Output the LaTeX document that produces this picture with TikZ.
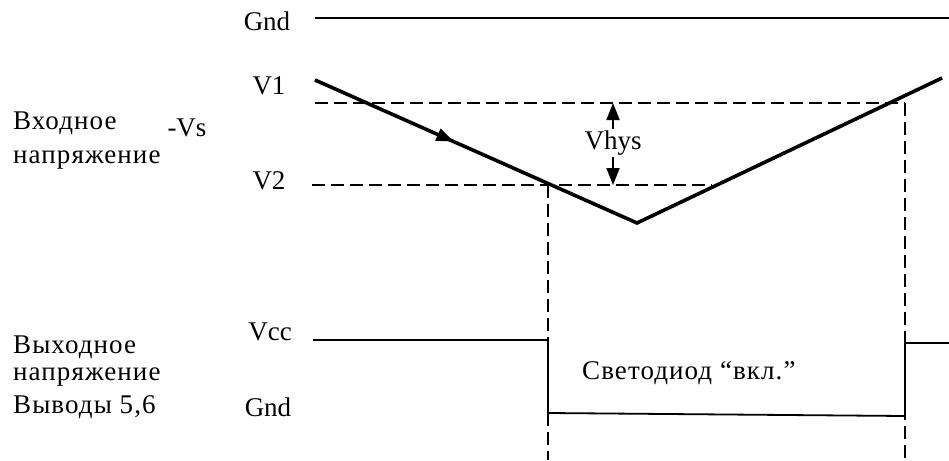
\documentclass[tikz,border=0pt]{standalone}
\usepackage{fontspec}
\setmainfont{Liberation Serif}
\newfontfamily\spacedfont[LetterSpace=4]{Liberation Serif}
\usetikzlibrary{arrows.meta,calc}
\begin{document}
\begin{tikzpicture}[x=1pt,y=-1pt,
  lbl/.style={font=\fontsize{27}{29}\selectfont, inner sep=0pt},
  lleft/.style={font=\spacedfont\fontsize{27}{29}\selectfont, inner sep=0pt, anchor=west},
  thin line/.style={line width=1.8pt},
  thick line/.style={line width=3.6pt},
  dash line/.style={line width=1.8pt, dash pattern=on 13pt off 6pt},
  big tip/.style={-{Triangle[length=17pt,width=13pt]}, line width=1.8pt}]
\useasboundingbox (0,0) rectangle (949,460);
% labels
\node[lbl] (gndT) at (267,21) {Gnd};
\node[lbl] (v1) at (269,86) {V1};
\node[lbl] (v2) at (269,181) {V2};
\node[lbl] (vcc) at (270,332) {Vcc};
\node[lbl] (gndB) at (268,407) {Gnd};
\node[lleft] (in1) at (13,123) {Входное};
\node[lleft] (in2) at (13,160) {напряжение};
\node[lbl] (vs) at (187,128) {-Vs};
\node[lleft] (out1) at (13,347) {Выходное};
\node[lleft] (out2) at (13,377) {напряжение};
\node[lleft] (out3) at (13,407) {Выводы 5,6};
\node[lleft] (led) at (582,373) {Светодиод “вкл.”};
\node[lbl] (vhys) at (613,143) {Vhys};
% coordinates
\coordinate (g0) at (315,18);
\coordinate (g1) at (949,18);
\coordinate (a) at (315,80);
\coordinate (b) at (637,223);
\coordinate (c) at (942,78);
\coordinate (d1a) at (315,103);
\coordinate (d1b) at (905,103);
\coordinate (d2a) at (312,185);
\coordinate (d2b) at (712,185);
\coordinate (x1) at (548,185);
\coordinate (x1b) at (548,460);
\coordinate (x2b) at (905,460);
\coordinate (h1) at (613,103);
\coordinate (h2) at (613,185);
\coordinate (o0) at (313,340);
\coordinate (o1) at (548,340);
\coordinate (o2) at (548,413);
\coordinate (o3) at (905,416);
\coordinate (o4) at (905,343);
\coordinate (o5) at (949,343);
\coordinate (am) at ($(a)!0.43!(b)$);
% top gnd line
\draw[thin line] (g0) -- (g1);
% dashed lines
\draw[dash line] (d1a) -- (d1b);
\draw[dash line] (d2a) -- (d2b);
\draw[dash line] (x1) -- (x1b);
\draw[dash line] (d1b) -- (x2b);
% input signal
\draw[thick line, line join=miter] (a) -- (b) -- (c);
\draw[big tip] (a) -- (am);
% Vhys arrows
\draw[big tip] ($(vhys.north)+(0,-2)$) -- (h1);
\draw[big tip] ($(vhys.south)+(0,2)$) -- (h2);
% output signal
\draw[thin line] (o0) -- (o1) -- (o2) -- (o3) -- (o4) -- (o5);
\end{tikzpicture}
\end{document}
